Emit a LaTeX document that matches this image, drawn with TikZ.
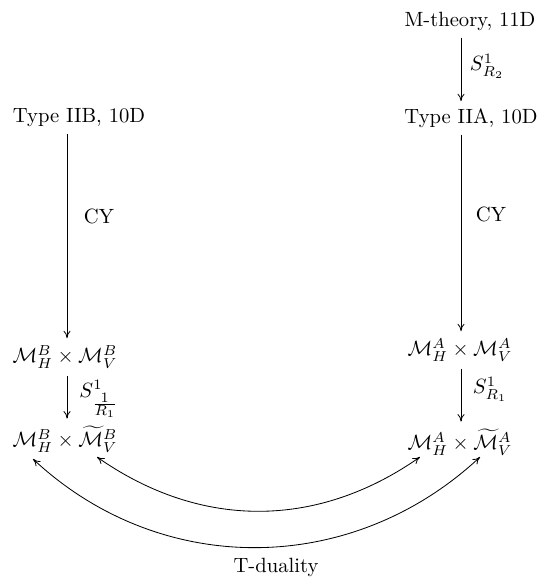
\documentclass[tikz,border=0pt]{standalone}
\usepackage{amsmath,amssymb}
\usetikzlibrary{arrows.meta}
\begin{document}
\begin{tikzpicture}[x=0.485pt,y=0.485pt,
  lbl/.style={inner sep=1pt},
  arr/.style={-{To[length=3.6pt,width=3.4pt]}},
  dual/.style={{To[length=3.6pt,width=3.4pt]}-{To[length=3.6pt,width=3.4pt]}}]
\useasboundingbox (0,0) rectangle (539,-578);
% nodes
\node (mth) at (470,-21) {M-theory, 11D};
\node (iia) at (471,-118) {Type IIA, 10D};
\node (iib) at (79,-118) {Type IIB, 10D};
\node (ma) at (460,-350) {$\mathcal{M}_H^A\times\mathcal{M}_V^A$};
\node (mb) at (65,-357) {$\mathcal{M}_H^B\times\mathcal{M}_V^B$};
\node (mta) at (460,-442) {$\mathcal{M}_H^A\times\widetilde{\mathcal{M}}_V^A$};
\node (mtb) at (65,-439) {$\mathcal{M}_H^B\times\widetilde{\mathcal{M}}_V^B$};
% columns
\coordinate (colA) at (461,0);
\coordinate (colB) at (67,0);
% vertical arrows
\draw[arr] (mth.south -| colA) -- (iia.north -| colA);
\draw[arr] (iia.south -| colA) -- (ma.north -| colA);
\draw[arr] (ma.south -| colA) -- (mta.north -| colA);
\draw[arr] (iib.south -| colB) -- (mb.north -| colB);
\draw[arr] (mb.south -| colB) -- (mtb.north -| colB);
% labels
\node[lbl] (l1) at (487,-66) {$S^1_{R_2}$};
\node[lbl] (l2) at (491,-214) {CY};
\node[lbl] (l3) at (99,-216) {CY};
\node[lbl] (l4) at (490,-389) {$S^1_{R_1}$};
\node[lbl] (l5) at (99,-399) {$S^1_{\frac{\scriptstyle 1}{\scriptstyle R_1}}$};
% arc ends
\coordinate (ilB) at (97,-457);
\coordinate (irA) at (420,-457);
\coordinate (olB) at (33,-459);
\coordinate (orA) at (480,-457);
\draw[dual] (ilB) to[out=-35,in=-145] (irA);
\draw[dual] (olB) to[out=-43,in=-137] (orA);
\node (td) at (276,-567) {T-duality};
\end{tikzpicture}
\end{document}
